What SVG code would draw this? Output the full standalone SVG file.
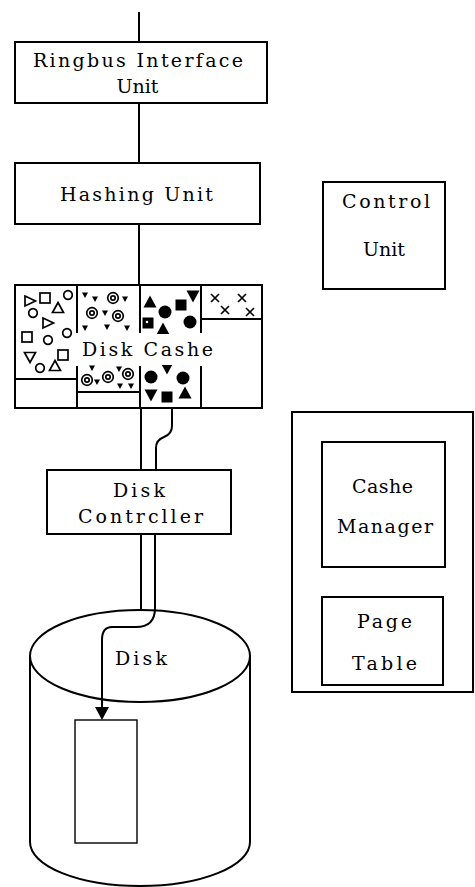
<svg xmlns="http://www.w3.org/2000/svg" xmlns:xlink="http://www.w3.org/1999/xlink" width="475" height="887" viewBox="0 0 475 887">
<style>
.box{fill:#fff;stroke:#000;stroke-width:2}
.ln{fill:none;stroke:#000;stroke-width:2}
.thin{fill:none;stroke:#000;stroke-width:1.4}
.t{font-family:"DejaVu Serif","Liberation Serif",serif;font-size:19px;fill:#000;text-anchor:middle}
.o{fill:none;stroke:#000;stroke-width:1.7}
.f{fill:#000;stroke:none}
</style>
<defs>
<polygon id="triR" class="o" points="-5,-5 5.5,0 -5,5"/>
<polygon id="triU" class="o" points="0,-5.5 5.5,4.5 -5.5,4.5"/>
<polygon id="triD" class="o" points="-5.5,-4.5 5.5,-4.5 0,5.5"/>
<rect id="sq" class="o" x="-5" y="-5" width="10" height="10"/>
<circle id="ci" class="o" r="4.3"/>
<g id="tgt"><circle class="o" r="5.3"/><circle class="o" r="2.2"/></g>
<polygon id="st" class="f" points="-3,-2.5 3,-2.5 0,3"/>
<polygon id="fU" class="f" points="0,-6.5 6.5,5.5 -6.5,5.5"/>
<polygon id="fD" class="f" points="-6.5,-5.5 6.5,-5.5 0,6.5"/>
<rect id="fS" class="f" x="-5.5" y="-5.5" width="11" height="11"/>
<circle id="fC" class="f" r="6.5"/>
<path id="xx" class="o" d="M-4,-4 L4,4 M4,-4 L-4,4"/>
</defs>

<g id="connectors">
<path class="ln" d="M139,12 V42"/>
<path class="ln" d="M139,103 V163"/>
<path class="ln" d="M139,224 V285"/>
<path class="ln" d="M141,408 V470"/>
<path class="ln" d="M172,408 V426 Q172,434 164,437 Q156,440 156,448 V470"/>
<path class="ln" d="M141,534 V610"/>
<path class="ln" d="M155,534 V608 Q155,627 136,627 H112 Q102,627 102,640 V708"/>
<path d="M95,707 L109,707 L102,720 Z" fill="#000"/>
</g>

<g id="ringbus">
<rect class="box" x="15" y="42" width="252" height="61"/>
<text class="t" x="138" y="67" textLength="210" lengthAdjust="spacing">Ringbus Interface</text>
<text class="t" x="137.5" y="93">Unit</text>
</g>

<g id="hashing">
<rect class="box" x="15" y="163" width="245" height="61"/>
<text class="t" x="136.5" y="201" textLength="153" lengthAdjust="spacing">Hashing Unit</text>
</g>

<g id="control">
<rect class="box" x="323" y="182" width="122" height="107"/>
<text class="t" x="386" y="208" textLength="88" lengthAdjust="spacing">Control</text>
<text class="t" x="384" y="256">Unit</text>
</g>

<g id="cache">
<rect class="box" x="15" y="285" width="247" height="123"/>
<path class="ln" d="M16,379 H77 M77,392 H140 M201,319 H262"/>
<path class="ln" d="M77,285 V333 M77,366 V408 M140,285 V333 M140,366 V408 M201,285 V333 M201,366 V408"/>
<use xlink:href="#triR" x="30" y="301"/>
<use xlink:href="#sq" x="45" y="298"/>
<use xlink:href="#ci" x="68" y="295"/>
<use xlink:href="#triU" x="58" y="308"/>
<use xlink:href="#ci" x="33" y="313"/>
<use xlink:href="#triR" x="48" y="323"/>
<use xlink:href="#ci" x="67" y="333"/>
<use xlink:href="#sq" x="27" y="337"/>
<use xlink:href="#ci" x="48" y="340"/>
<use xlink:href="#triD" x="30" y="357"/>
<use xlink:href="#sq" x="63" y="355"/>
<use xlink:href="#ci" x="40" y="368"/>
<use xlink:href="#triU" x="55" y="366"/>
<use xlink:href="#st" x="85" y="295"/>
<use xlink:href="#st" x="95" y="299"/>
<use xlink:href="#tgt" x="113" y="298"/>
<use xlink:href="#st" x="125" y="299"/>
<use xlink:href="#tgt" x="92" y="313"/>
<use xlink:href="#st" x="105" y="313"/>
<use xlink:href="#tgt" x="118" y="316"/>
<use xlink:href="#st" x="85" y="328"/>
<use xlink:href="#st" x="107" y="327"/>
<use xlink:href="#st" x="127" y="328"/>
<use xlink:href="#st" x="92" y="368"/>
<use xlink:href="#tgt" x="87" y="380"/>
<use xlink:href="#st" x="97" y="382"/>
<use xlink:href="#tgt" x="108" y="377"/>
<use xlink:href="#st" x="119" y="369"/>
<use xlink:href="#tgt" x="128" y="374"/>
<use xlink:href="#st" x="120" y="386"/>
<use xlink:href="#st" x="131" y="386"/>
<use xlink:href="#fU" x="150" y="302"/>
<use xlink:href="#fD" x="193" y="296"/>
<use xlink:href="#fS" x="181" y="305"/>
<use xlink:href="#fC" x="165" y="312"/>
<use xlink:href="#fC" x="190" y="322"/>
<use xlink:href="#fS" x="148" y="323"/>
<circle cx="147" cy="322" r="1.3" fill="#fff"/>
<use xlink:href="#fU" x="163" y="329"/>
<use xlink:href="#fC" x="151" y="377"/>
<use xlink:href="#fD" x="167" y="368"/>
<use xlink:href="#fC" x="183" y="378"/>
<use xlink:href="#fD" x="151" y="395"/>
<use xlink:href="#fS" x="167" y="397"/>
<use xlink:href="#fU" x="185" y="393"/>
<use xlink:href="#xx" x="215" y="298"/>
<use xlink:href="#xx" x="242" y="298"/>
<use xlink:href="#xx" x="225" y="310"/>
<use xlink:href="#xx" x="250" y="312"/>
<rect x="78" y="334" width="138" height="31" fill="#fff"/>
<text class="t" x="147.5" y="356" textLength="131" lengthAdjust="spacing">Disk Cashe</text>
</g>

<g id="diskcontroller">
<rect class="box" x="47" y="470" width="184" height="64"/>
<text class="t" x="139" y="497" textLength="52" lengthAdjust="spacing">Disk</text>
<text class="t" x="140.5" y="523" textLength="125" lengthAdjust="spacing">Contrcller</text>
</g>

<g id="disk">
<path class="ln" d="M30,656 V842 A110,44 0 0 0 250,842 V656"/>
<ellipse class="ln" cx="140" cy="656" rx="110" ry="46"/>
<text class="t" x="141" y="665" textLength="52" lengthAdjust="spacing">Disk</text>
<rect class="thin" x="75" y="720" width="62" height="123"/>
</g>

<g id="cachemanager-group">
<rect class="box" x="292" y="412" width="181" height="280"/>
<g id="cachemanager">
<rect class="box" x="322" y="442" width="123" height="125"/>
<text class="t" x="382.5" y="493" textLength="61" lengthAdjust="spacing">Cashe</text>
<text class="t" x="385" y="533" textLength="96" lengthAdjust="spacing">Manager</text>
</g>
<g id="pagetable">
<rect class="box" x="322" y="597" width="121" height="88"/>
<text class="t" x="384.5" y="628" textLength="55" lengthAdjust="spacing">Page</text>
<text class="t" x="384.5" y="670" textLength="65" lengthAdjust="spacing">Table</text>
</g>
</g>
</svg>
